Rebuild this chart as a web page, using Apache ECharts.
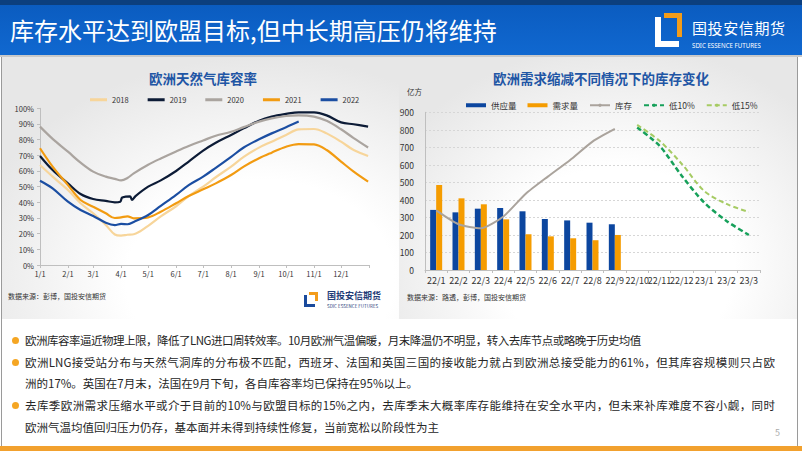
<!DOCTYPE html>
<html><head><meta charset="utf-8">
<script src="https://cdn.jsdelivr.net/npm/echarts@6/dist/echarts.min.js"></script>
<style>
html,body{margin:0;padding:0;}
body{width:802px;height:451px;position:relative;overflow:hidden;background:#fff;font-family:"Noto Sans CJK SC","Noto Sans",sans-serif;}
.abs{position:absolute;}
#hdr{left:0;top:0;width:802px;height:55px;background:linear-gradient(#0c3f7e 0,#0c3f7e 5px,#0b5cc0 5px,#1068d0 55px);}
#hdrline{left:0;top:55px;width:802px;height:2px;background:#c9c9c9;}
#title{left:10px;top:13px;font-size:24px;color:#fff;line-height:34px;white-space:nowrap;}
#pl{left:2px;top:57px;width:397px;height:262px;background:radial-gradient(ellipse 75% 85% at 65% 85%,#ffffff 45%,#e7e7e7 100%);}
#pr{left:399px;top:57px;width:398px;height:262px;background:radial-gradient(ellipse 65% 85% at 55% 80%,#ffffff 45%,#e7e7e7 100%);}
#c{left:0;top:0;width:802px;height:451px;}
.frame{top:57px;width:1px;height:389px;background:#9a9a9a;}
#bottom{left:0;top:446px;width:802px;height:5px;background:#f2a12e;}
#pg{left:775px;top:426px;font-size:9px;color:#aaa;}
.bl{left:25px;font-size:11.5px;line-height:20px;color:#262626;white-space:nowrap;}
.just{width:750px;text-align:justify;text-align-last:justify;}
.dot{left:12px;width:7px;height:7px;border-radius:50%;background:#f5a623;}
#lgtext{left:692px;top:20px;font-size:15px;color:#fff;line-height:16px;white-space:nowrap;letter-spacing:0.6px;}
#lgsub{left:692px;top:41px;font-size:7.5px;color:#fff;line-height:8px;white-space:nowrap;transform:scaleX(0.82);transform-origin:left top;font-family:"Noto Sans",sans-serif;}
</style></head>
<body>
<div id="hdr" class="abs"></div>
<div id="hdrline" class="abs"></div>
<div id="title" class="abs">库存水平达到欧盟目标,但中长期高压仍将维持</div>
<div class="abs" style="left:655px;top:17px;width:6px;height:30px;background:#fff"></div>
<div class="abs" style="left:655px;top:41px;width:24px;height:6px;background:#fff"></div>
<div class="abs" style="left:664px;top:13px;width:18px;height:5px;background:#f39c1a"></div>
<div class="abs" style="left:677px;top:13px;width:5px;height:24px;background:#f39c1a"></div>
<div id="lgtext" class="abs">国投安信期货</div>
<div id="lgsub" class="abs">SDIC ESSENCE FUTURES</div>
<div id="pl" class="abs"></div>
<div id="pr" class="abs"></div>
<div class="abs frame" style="left:1px"></div>
<div class="abs frame" style="left:797px"></div>
<div id="c" class="abs"></div>
<div class="abs dot" style="top:337px"></div>
<div class="abs bl" style="top:330px;letter-spacing:-0.5px">欧洲库容率逼近物理上限，降低了LNG进口周转效率。10月欧洲气温偏暖，月末降温仍不明显，转入去库节点或略晚于历史均值</div>
<div class="abs dot" style="top:359px"></div>
<div class="abs bl just" style="top:352px">欧洲LNG接受站分布与天然气洞库的分布极不匹配，西班牙、法国和英国三国的接收能力就占到欧洲总接受能力的61%，但其库容规模则只占欧</div>
<div class="abs bl" style="top:373px">洲的17%。英国在7月末，法国在9月下旬，各自库容率均已保持在95%以上。</div>
<div class="abs dot" style="top:402px"></div>
<div class="abs bl just" style="top:395px">去库季欧洲需求压缩水平或介于目前的10%与欧盟目标的15%之内，去库季末大概率库存能维持在安全水平内，但未来补库难度不容小觑，同时</div>
<div class="abs bl" style="top:417px">欧洲气温均值回归压力仍存，基本面并未得到持续性修复，当前宽松以阶段性为主</div>
<div id="pg" class="abs">5</div>
<div id="bottom" class="abs"></div>
<script>
// ---- Left chart data (storage fill rate, %) ----
const monthDays = [0,31,59,90,120,151,181,212,243,273,304,334];
const monthLabels = ['1/1','2/1','3/1','4/1','5/1','6/1','7/1','8/1','9/1','10/1','11/1','12/1'];
const yearDays = [0,14,31,45,59,73,83,90,97,104,120,134,151,165,181,195,212,226,243,257,273,287,304,318,334,348,364];
const v2018 = [63.8,56.4,47.9,39.4,33,25.5,19.5,18.8,19.3,19.6,25,31,37.5,44,50,56,62.8,69,74.9,78.7,83,86.5,86.8,84,78.7,73.4,69.6];
const v2020 = [88.3,80.5,72.3,65.3,59.6,56.4,55,54,55.5,58.5,64,68,72.5,76,79.5,82.5,85,88,91.5,93.6,95.1,95.5,94.7,92,86.6,81,75];
const v2021 = [74.5,62.8,51,41.5,37.2,33,30,30.4,31,29.8,30.4,34,39.4,44,48.3,52.1,57.4,62.8,68.1,71.7,75.5,77.2,77,73.4,66,59.6,53.2];
const v2022 = [53.8,48.9,40.4,35.1,31.3,27,25.5,26.2,26,27.5,31.9,37.7,44.7,51,56.4,62,69,75,80.2,84,87.9,91.5];
const days2019 = [0,14,31,45,59,73,83,89,91,95,100,102,106,120,134,151,165,181,195,212,226,243,257,273,287,304,318,334,348,364];
const v2019 = [69.6,60.6,52.1,45.3,42.1,40.9,40,40.4,43,43.6,43.8,41.5,44,50,54,60,66,73,78,83,87.2,92.1,94.7,96.4,97.4,97.4,95.5,91,89.8,88.3];

// ---- Right chart data (亿方) ----
const cats = ['22/1','22/2','22/3','22/4','22/5','22/6','22/7','22/8','22/9','22/10','22/11','22/12','23/1','23/2','23/3'];
const supply = [343,329,350,354,335,291,283,270,261];
const demand = [485,409,375,289,204,192,181,170,200];
const stock = [340,261,238,304,434,533,628,733,805];
const low10 = [null,null,null,null,null,null,null,null,null,813,709,537,385,280,200];
const low15 = [null,null,null,null,null,null,null,null,null,828,737,605,451,377,331];

const pair = (xs, ys) => ys.map((y, i) => [xs[i], y]);
const F = '"Noto Sans CJK SC","Noto Sans",sans-serif';
const axisGray = '#bfbfbf';

const chart = echarts.init(document.getElementById('c'), null, {renderer: 'svg', width: 802, height: 451});
const lineS = (name, data, color, w) => ({
  name, type: 'line', xAxisIndex: 0, yAxisIndex: 0, data, showSymbol: false, symbol: 'none',
  smooth: 0.35, lineStyle: {color, width: w}, itemStyle: {color}, z: 3
});
chart.setOption({
  animation: false,
  textStyle: {fontFamily: F},
  graphic: [
    {type: 'text', x: 203, y: 78, style: {text: '欧洲天然气库容率', fill: '#1f56a5', fontSize: 13.5, fontWeight: 'bold', fontFamily: F, align: 'center', verticalAlign: 'middle'}},
    {type: 'text', x: 601, y: 78, style: {text: '欧洲需求缩减不同情况下的库存变化', fill: '#1f56a5', fontSize: 13.5, fontWeight: 'bold', fontFamily: F, align: 'center', verticalAlign: 'middle'}},
    {type: 'text', x: 8, y: 296, style: {text: '数据来源：彭博，国投安信期货', fill: '#333', fontSize: 7, fontFamily: F, verticalAlign: 'middle'}},
    {type: 'text', x: 407, y: 297, style: {text: '数据来源：路透，彭博，国投安信期货', fill: '#333', fontSize: 7, fontFamily: F, verticalAlign: 'middle'}},
    {type: 'text', x: 407, y: 91, style: {text: '亿方', fill: '#333', fontSize: 7.5, fontFamily: F, verticalAlign: 'middle'}},
    {type: 'rect', shape: {x: 309, y: 292, width: 9, height: 3}, style: {fill: '#f39c1a'}},
    {type: 'rect', shape: {x: 315, y: 292, width: 3, height: 9}, style: {fill: '#f39c1a'}},
    {type: 'rect', shape: {x: 304, y: 295, width: 3, height: 12}, style: {fill: '#1a4a9c'}},
    {type: 'rect', shape: {x: 304, y: 304, width: 11, height: 3}, style: {fill: '#1a4a9c'}},
    {type: 'text', x: 327, y: 295.5, style: {text: '国投安信期货', fill: '#1f3c78', fontSize: 9, fontWeight: 'bold', fontFamily: F, verticalAlign: 'middle'}},
    {type: 'text', x: 327, y: 306, style: {text: 'SDIC ESSENCE FUTURES', fill: '#1f3c78', fontSize: 4.5, fontFamily: F, verticalAlign: 'middle'}}
  ],
  legend: [
    {data: ['2018','2019','2020','2021','2022'], left: 85, top: 91, icon: 'rect', itemWidth: 17, itemHeight: 3, itemGap: 19,
     textStyle: {fontSize: 7.5, color: '#333', fontFamily: F}},
    {data: [{name: '供应量', icon: 'rect'}, {name: '需求量', icon: 'rect'}, '库存', '低10%', '低15%'], left: 461, top: 96,
     itemWidth: 20, itemHeight: 4, itemGap: 11, textStyle: {fontSize: 8.5, color: '#333', fontFamily: F}}
  ],
  grid: [
    {left: 40, top: 108.3, width: 329, height: 156.7},
    {left: 425, top: 112.3, width: 335, height: 157.7}
  ],
  xAxis: [
    {gridIndex: 0, type: 'value', min: 0, max: 365,
     axisLine: {show: true, lineStyle: {color: axisGray}},
     axisTick: {show: true, length: 3, lineStyle: {color: axisGray}, customValues: monthDays.concat([365])},
     axisLabel: {customValues: monthDays, formatter: v => monthLabels[monthDays.indexOf(v)], fontSize: 7.5, color: '#333', margin: 5},
     splitLine: {show: false}},
    {gridIndex: 1, type: 'category', data: cats, boundaryGap: true,
     axisLine: {show: true, lineStyle: {color: axisGray}},
     axisTick: {show: true, length: 3, lineStyle: {color: axisGray}},
     axisLabel: {interval: 0, fontSize: 9, color: '#333', margin: 6}}
  ],
  yAxis: [
    {gridIndex: 0, type: 'value', min: 0, max: 100, interval: 10,
     axisLine: {show: true, lineStyle: {color: axisGray}},
     axisTick: {show: true, length: 3, lineStyle: {color: axisGray}},
     axisLabel: {formatter: '{value}%', fontSize: 7.5, color: '#333', margin: 6},
     splitLine: {show: false}},
    {gridIndex: 1, type: 'value', min: 0, max: 900, interval: 100,
     axisLine: {show: true, lineStyle: {color: axisGray}},
     axisTick: {show: false},
     axisLabel: {fontSize: 8.5, color: '#333', margin: 11},
     splitLine: {show: true, lineStyle: {type: [2, 2], color: '#d6d6d6'}}}
  ],
  series: [
    lineS('2018', pair(yearDays, v2018), '#f7d59a', 2.2),
    lineS('2019', pair(days2019, v2019), '#0c1b36', 2.2),
    lineS('2020', pair(yearDays, v2020), '#aaa49f', 2.2),
    lineS('2021', pair(yearDays, v2021), '#f29b11', 2.2),
    lineS('2022', pair(yearDays, v2022), '#1b4ea2', 2.2),
    {name: '供应量', type: 'bar', xAxisIndex: 1, yAxisIndex: 1, data: supply, barWidth: 6, barGap: '0%', itemStyle: {color: '#0c469f'}},
    {name: '需求量', type: 'bar', xAxisIndex: 1, yAxisIndex: 1, data: demand, barWidth: 6, barGap: '0%', itemStyle: {color: '#f59c00'}},
    {name: '库存', type: 'line', xAxisIndex: 1, yAxisIndex: 1, data: stock, symbol: 'none', smooth: 0.2,
     lineStyle: {color: '#aaa39c', width: 2}, itemStyle: {color: '#aaa39c'}},
    {name: '低10%', type: 'line', xAxisIndex: 1, yAxisIndex: 1, data: low10, symbol: 'none', smooth: 0.3,
     lineStyle: {color: '#16a05a', width: 2.5, type: [5, 3]}, itemStyle: {color: '#16a05a'}},
    {name: '低15%', type: 'line', xAxisIndex: 1, yAxisIndex: 1, data: low15, symbol: 'none', smooth: 0.3,
     lineStyle: {color: '#a6cb63', width: 2, type: [5, 3]}, itemStyle: {color: '#a6cb63'}}
  ]
});
</script>
</body></html>
